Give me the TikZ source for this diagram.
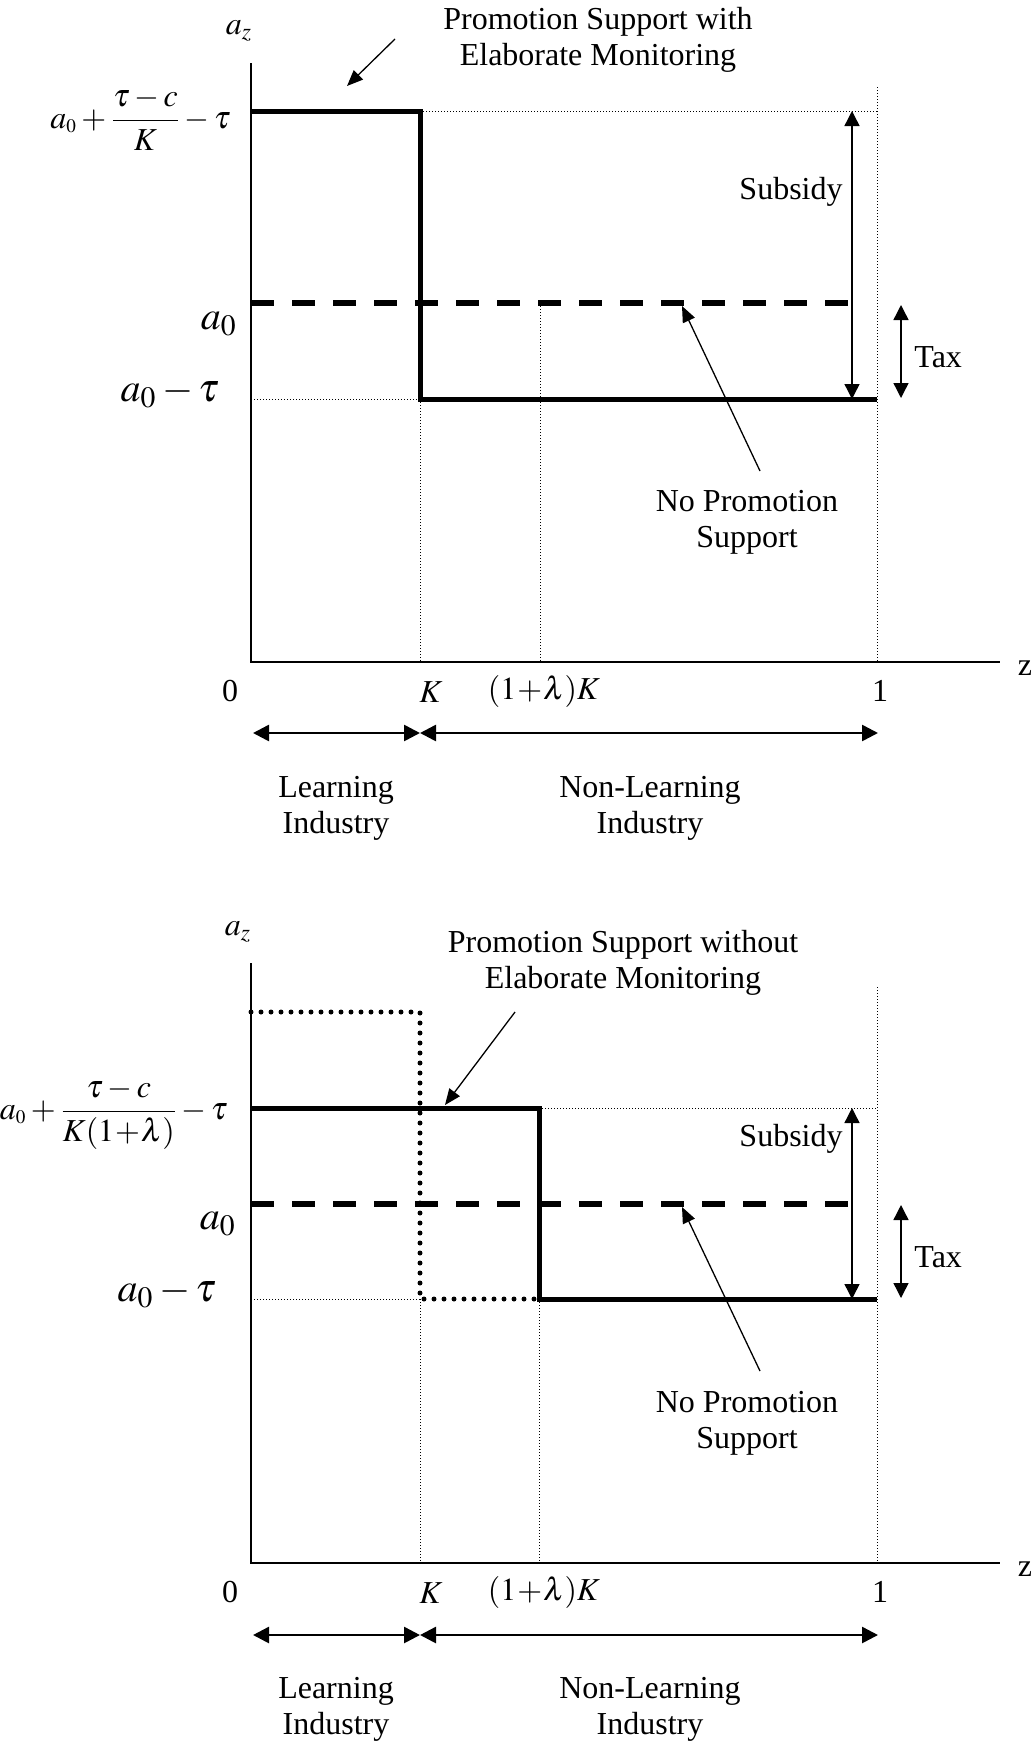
\documentclass[tikz,border=0pt]{standalone}
\usepackage{mathptmx}
\usepackage{fontspec}
\setmainfont{Liberation Serif}
\usetikzlibrary{arrows.meta}
\tikzset{
  every picture/.style={x=0.5pt, y=-0.5pt},
  txt/.style={inner sep=0pt, font=\fontsize{16}{18}\selectfont, align=center},
  big/.style={inner sep=0pt, font=\fontsize{20}{24}\selectfont},
  axisline/.style={line width=1.1pt},
  stepline/.style={line width=2.5pt},
  nosupport/.style={line width=3pt, dash pattern=on 11.5pt off 9pt},
  guide/.style={line width=0.5pt, dash pattern=on 0.5pt off 1pt},
  heavydots/.style={line width=2.5pt, line cap=round, dash pattern=on 0pt off 5pt},
  gaparrow/.style={line width=0.7pt, {Triangle[length=7.5pt,width=7.5pt]}-{Triangle[length=7.5pt,width=7.5pt]}},
  spanarrow/.style={line width=1.3pt, {Triangle[length=8pt,width=8pt]}-{Triangle[length=8pt,width=8pt]}},
  pointer/.style={line width=0.65pt, -{Triangle[length=8pt,width=6.5pt]}},
}

\begin{document}
\begin{tikzpicture}
\useasboundingbox (0,0) rectangle (1032,1745);

% upper panel: with elaborate monitoring
\draw[guide] (251,399) -- (420,399);
\draw[guide] (420,111) -- (877,111);
\draw[guide] (420,399) -- (420,662);
\draw[guide] (540,303) -- (540,662);
\draw[guide] (877,87) -- (877,662);
\draw[axisline] (251,63) -- (251,662) -- (1000,662);
\draw[nosupport] (251,303) -- (865,303);
\draw[stepline] (251,111) -- (420,111) -- (420,399) -- (877,399);

\node (az 1) at (239,31) [txt] {$a_z$};
\node (high 1) at (231,119) [txt, anchor=east] {$\displaystyle a_{\scriptscriptstyle 0}+\frac{\tau-c}{K}-\tau$};
\node (base 1) at (237,324) [big, anchor=east] {$a_0$};
\node (low 1) at (220,393) [big, anchor=east] {$a_0-\tau$};
\node (with) at (598,40) [txt] {Promotion Support with\\Elaborate Monitoring};
\node (none 1) at (747,522) [txt] {No Promotion\\Support};
\node (subsidy 1) at (843,192) [txt, anchor=east] {Subsidy};
\node (tax 1) at (914,357) [txt, anchor=west] {Tax};
\node (zero 1) at (230,691) [txt] {0};
\node (k 1) at (431,692) [txt] {$K$};
\node (lk 1) at (544,691) [txt] {$(1\!+\!\lambda)K$};
\node (one 1) at (880,691) [txt] {1};
\node (z 1) at (1025,668) [txt] {z};
\node (learn 1) at (336,808) [txt] {Learning\\Industry};
\node (nonlearn 1) at (650,808) [txt] {Non-Learning\\Industry};

\coordinate (s top 1) at (852,111);
\coordinate (s bot 1) at (852,399);
\coordinate (t top 1) at (901,305);
\coordinate (t bot 1) at (901,398);
\coordinate (w from) at (395,39);
\coordinate (w to) at (347,86);
\coordinate (n from 1) at (760,471);
\coordinate (n to 1) at (682,306);
\coordinate (r0 1) at (253,733);
\coordinate (rk 1) at (420,733);
\coordinate (r1 1) at (878,733);

\draw[gaparrow] (s top 1) -- (s bot 1);
\draw[gaparrow] (t top 1) -- (t bot 1);
\draw[pointer] (w from) -- (w to);
\draw[pointer] (n from 1) -- (n to 1);
\draw[spanarrow] (r0 1) -- (rk 1);
\draw[spanarrow] (rk 1) -- (r1 1);

% lower panel: without elaborate monitoring
\draw[guide] (251,1299) -- (420,1299);
\draw[guide] (539,1108) -- (877,1108);
\draw[guide] (420,1299) -- (420,1563);
\draw[guide] (539,1299) -- (539,1563);
\draw[guide] (877,987) -- (877,1563);
\draw[axisline] (251,963) -- (251,1563) -- (1000,1563);
\draw[nosupport] (251,1204) -- (865,1204);
\draw[stepline] (251,1108) -- (539,1108) -- (539,1299) -- (877,1299);
\draw[heavydots] (251,1012) -- (420,1012) -- (420,1299) -- (534,1299);

\node (az 2) at (238,932) [txt] {$a_z$};
\node (high 2) at (228,1114) [txt, anchor=east] {$\displaystyle a_{\scriptscriptstyle 0}+\frac{\tau-c}{K(1\!+\!\lambda)}-\tau$};
\node (base 2) at (236,1224) [big, anchor=east] {$a_0$};
\node (low 2) at (217,1293) [big, anchor=east] {$a_0-\tau$};
\node (without) at (623,963) [txt] {Promotion Support without\\Elaborate Monitoring};
\node (none 2) at (747,1423) [txt] {No Promotion\\Support};
\node (subsidy 2) at (843,1139) [txt, anchor=east] {Subsidy};
\node (tax 2) at (914,1257) [txt, anchor=west] {Tax};
\node (zero 2) at (230,1592) [txt] {0};
\node (k 2) at (431,1593) [txt] {$K$};
\node (lk 2) at (544,1592) [txt] {$(1\!+\!\lambda)K$};
\node (one 2) at (880,1592) [txt] {1};
\node (z 2) at (1025,1569) [txt] {z};
\node (learn 2) at (336,1709) [txt] {Learning\\Industry};
\node (nonlearn 2) at (650,1709) [txt] {Non-Learning\\Industry};

\coordinate (s top 2) at (852,1108);
\coordinate (s bot 2) at (852,1299);
\coordinate (t top 2) at (901,1205);
\coordinate (t bot 2) at (901,1298);
\coordinate (wo from) at (515,1012);
\coordinate (wo to) at (445,1105);
\coordinate (n from 2) at (760,1371);
\coordinate (n to 2) at (682,1207);
\coordinate (r0 2) at (253,1635);
\coordinate (rk 2) at (420,1635);
\coordinate (r1 2) at (878,1635);

\draw[gaparrow] (s top 2) -- (s bot 2);
\draw[gaparrow] (t top 2) -- (t bot 2);
\draw[pointer] (wo from) -- (wo to);
\draw[pointer] (n from 2) -- (n to 2);
\draw[spanarrow] (r0 2) -- (rk 2);
\draw[spanarrow] (rk 2) -- (r1 2);
\end{tikzpicture}
\end{document}
